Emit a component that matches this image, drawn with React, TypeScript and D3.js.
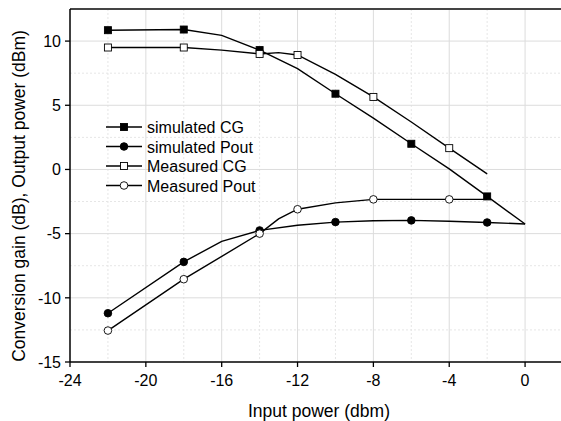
import React from "react";
import * as d3 from "d3";

// Line points (x = input power dBm, y = value)
const simCGx = [-22, -18, -16, -14, -12, -10, -8, -6, -4, -2, 0];
const simCGy = [10.85, 10.9, 10.45, 9.3, 7.85, 5.9, 4.0, 2.0, 0.05, -2.1, -4.25];
const simCGmarkers = [-22, -18, -14, -10, -6, -2];

const simPoutx = [-22, -18, -16, -14, -12, -10, -8, -6, -4, -2, 0];
const simPouty = [-11.2, -7.2, -5.6, -4.75, -4.35, -4.1, -4.0, -3.97, -4.03, -4.13, -4.25];
const simPoutMarkers = [-22, -18, -14, -10, -6, -2];

const measCGx = [-22, -18, -16, -14, -13, -12, -10, -8, -6, -4, -2];
const measCGy = [9.5, 9.5, 9.3, 9.0, 9.1, 8.92, 7.4, 5.65, 3.7, 1.66, -0.35];
const measCGmarkers = [-22, -18, -14, -12, -8, -4];

const measPoutx = [-22, -18, -14, -13, -12, -10, -8, -6, -4, -2];
const measPouty = [-12.55, -8.55, -5.0, -3.85, -3.1, -2.6, -2.33, -2.33, -2.33, -2.33];
const measPoutMarkers = [-22, -18, -14, -12, -8, -4];

const xTicks = [-24, -20, -16, -12, -8, -4, 0];
const xMinor = [-22, -18, -14, -10, -6, -2];
const yTicks = [-15, -10, -5, 0, 5, 10];
const yMinor = [-12.5, -7.5, -2.5, 2.5, 7.5];

const legendLabels = ["simulated CG", "simulated Pout", "Measured CG", "Measured Pout"];

const W = 561, H = 421;
const L = 70, R = 563, T = 9, B = 362;
const FONT = "'Liberation Sans', Arial, sans-serif";

export default function App() {
  const x = d3.scaleLinear().domain([-24, 2]).range([L, R]);
  const y = d3.scaleLinear().domain([-15, 12.5]).range([B, T]);
  const line = d3.line<[number, number]>().x(d => x(d[0])).y(d => y(d[1]));

  const series = [
    { xs: simCGx, ys: simCGy, m: simCGmarkers, shape: "square", fill: "#000" },
    { xs: simPoutx, ys: simPouty, m: simPoutMarkers, shape: "circle", fill: "#000" },
    { xs: measCGx, ys: measCGy, m: measCGmarkers, shape: "square", fill: "#fff" },
    { xs: measPoutx, ys: measPouty, m: measPoutMarkers, shape: "circle", fill: "#fff" },
  ];

  const marker = (shape: string, fill: string, cx: number, cy: number, key: any) =>
    shape === "square" ? (
      <rect key={key} x={cx - 3.5} y={cy - 3.5} width={7} height={7} fill={fill} stroke="#000" strokeWidth={0.9} />
    ) : (
      <circle key={key} cx={cx} cy={cy} r={3.8} fill={fill} stroke="#000" strokeWidth={0.9} />
    );

  return (
    <svg width={W} height={H} style={{ position: "absolute", left: 0, top: 0, background: "#fff" }} fontFamily={FONT}>
      {/* grid */}
      {xMinor.map(v => (
        <line key={"xm" + v} x1={x(v)} x2={x(v)} y1={T} y2={B} stroke="#e6e6e6" strokeWidth={1} strokeDasharray="2,2" />
      ))}
      {yMinor.map(v => (
        <line key={"ym" + v} x1={L} x2={W} y1={y(v)} y2={y(v)} stroke="#e6e6e6" strokeWidth={1} strokeDasharray="2,2" />
      ))}
      {xTicks.filter(v => v !== -24).map(v => (
        <line key={"xg" + v} x1={x(v)} x2={x(v)} y1={T} y2={B} stroke="#dcdcdc" strokeWidth={1} />
      ))}
      {yTicks.filter(v => v !== -15).map(v => (
        <line key={"yg" + v} x1={L} x2={W} y1={y(v)} y2={y(v)} stroke="#dcdcdc" strokeWidth={1} />
      ))}

      {/* lines */}
      {series.map((s, i) => (
        <path key={"l" + i} d={line(s.xs.map((v, j) => [v, s.ys[j]] as [number, number])) || ""} fill="none" stroke="#000" strokeWidth={1.4} />
      ))}
      {/* markers */}
      {series.map((s, i) =>
        s.m.map(mx => {
          const j = s.xs.indexOf(mx);
          return marker(s.shape, s.fill, x(mx), y(s.ys[j]), "m" + i + "_" + mx);
        })
      )}

      {/* frame */}
      <line x1={L} x2={W} y1={T} y2={T} stroke="#444" strokeWidth={2} />
      <line x1={L} x2={L} y1={T} y2={B} stroke="#000" strokeWidth={1.5} />
      <line x1={L} x2={W} y1={B} y2={B} stroke="#000" strokeWidth={1.5} />

      {/* x ticks */}
      {xTicks.map(v => (
        <g key={"xt" + v}>
          <line x1={x(v)} x2={x(v)} y1={B} y2={B + 5} stroke="#000" strokeWidth={1.3} />
          <text x={x(v)} y={B + 24} textAnchor="middle" fontSize={16}>{v}</text>
        </g>
      ))}
      {/* y ticks */}
      {yTicks.map(v => (
        <g key={"yt" + v}>
          <line x1={L - 5} x2={L} y1={y(v)} y2={y(v)} stroke="#000" strokeWidth={1.3} />
          <text x={L - 9} y={y(v) + 5.7} textAnchor="end" fontSize={16}>{v}</text>
        </g>
      ))}

      {/* axis titles */}
      <text x={319} y={417} textAnchor="middle" fontSize={17.5}>Input power (dbm)</text>
      <text transform={`translate(25,196) rotate(-90)`} textAnchor="middle" fontSize={17.5}>
        Conversion gain (dB), Output power (dBm)
      </text>

      {/* legend */}
      {legendLabels.map((lab, i) => {
        const ly = 127 + i * 19.5;
        const s = series[i];
        return (
          <g key={"lg" + i}>
            <line x1={106} x2={142} y1={ly} y2={ly} stroke="#000" strokeWidth={1.4} />
            {marker(s.shape, s.fill, 124, ly, "lm" + i)}
            <text x={147} y={ly + 6} fontSize={16}>{lab}</text>
          </g>
        );
      })}
    </svg>
  );
}
